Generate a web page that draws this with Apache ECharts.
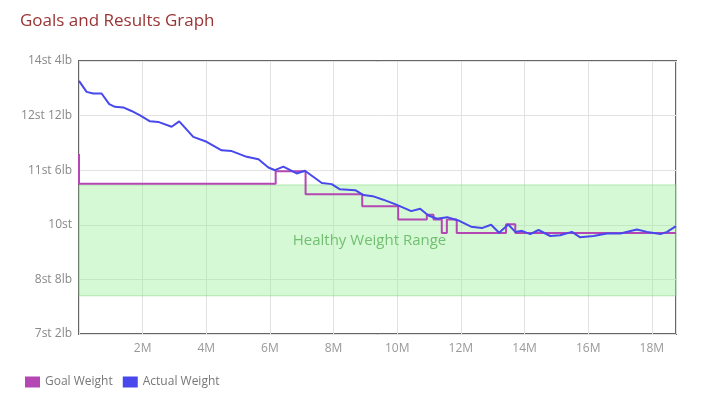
<!DOCTYPE html>
<html>
<head>
<meta charset="utf-8">
<script src="https://cdn.jsdelivr.net/npm/echarts@6/dist/echarts.min.js"></script>
<style>
html,body{margin:0;padding:0;background:#fff;}
#c{width:711px;height:396px;}
</style>
</head>
<body>
<div id="c"></div>
<script>
// x in months, y in pounds
const yTicks = [100, 120, 140, 160, 180, 200];
const yTickLabels = ['7st 2lb', '8st 8lb', '10st', '11st 6lb', '12st 12lb', '14st 4lb'];
const xTicks = [2, 4, 6, 8, 10, 12, 14, 16, 18];
const xTickLabels = ['2M', '4M', '6M', '8M', '10M', '12M', '14M', '16M', '18M'];

const goalWeight = [
  [0, 165.9], [0, 155], [6.18, 155], [6.18, 159.6], [7.12, 159.6], [7.12, 151.2],
  [8.90, 151.2], [8.90, 146.8], [10.03, 146.8], [10.03, 141.9], [10.93, 141.9],
  [10.93, 143.7], [11.14, 143.7], [11.14, 141.9], [11.40, 141.9], [11.40, 137.0],
  [11.56, 137.0], [11.56, 141.9], [11.87, 141.9], [11.87, 137.0], [13.42, 137.0],
  [13.42, 140.2], [13.71, 140.2], [13.71, 137.0], [18.76, 137.0]
];

const actualWeight = [
  [0, 192.7], [0.24, 188.7], [0.45, 188.1], [0.71, 188.1], [0.95, 184.2], [1.13, 183.2],
  [1.39, 183.0], [1.65, 181.7], [1.92, 180.1], [2.23, 177.9], [2.49, 177.7], [2.91, 175.9],
  [3.15, 177.9], [3.59, 172.2], [4.01, 170.4], [4.48, 167.3], [4.80, 167.0], [5.27, 164.9],
  [5.64, 164.0], [5.95, 161.0], [6.16, 160.0], [6.42, 161.3], [6.84, 158.8], [7.10, 159.8],
  [7.63, 155.3], [7.94, 154.9], [8.20, 153.0], [8.68, 152.7], [8.94, 150.9], [9.23, 150.5],
  [9.56, 149.2], [9.97, 147.4], [10.44, 145.0], [10.72, 145.9], [10.98, 143.4], [11.25, 142.2],
  [11.57, 142.8], [11.92, 141.6], [12.32, 139.3], [12.66, 138.8], [12.95, 140.0], [13.20, 137.1],
  [13.49, 140.1], [13.71, 137.4], [13.92, 137.8], [14.18, 136.6], [14.44, 138.1], [14.81, 135.9],
  [15.12, 136.2], [15.49, 137.4], [15.75, 135.4], [16.17, 135.9], [16.59, 136.8], [17.01, 136.8],
  [17.53, 138.3], [17.85, 137.4], [18.27, 136.6], [18.48, 137.4], [18.76, 139.5]
];

const healthyRange = [114, 154.6];
const xMax = 18.76;

const chart = echarts.init(document.getElementById('c'));
chart.setOption({
  animation: false,
  backgroundColor: '#fff',
  title: {
    text: 'Goals and Results Graph',
    left: 15, top: 8,
    textStyle: { color: '#9a3434', fontSize: 17, fontWeight: 'normal', fontFamily: 'Open Sans' }
  },
  legend: {
    data: ['Goal Weight', 'Actual Weight'],
    left: 20, top: 371,
    icon: 'rect', itemWidth: 15, itemHeight: 11, itemGap: 10,
    textStyle: { color: '#777', fontSize: 12, fontFamily: 'Open Sans' }
  },
  grid: {
    left: 79, right: 35, top: 61, bottom: 62,
    show: true, borderColor: '#666', borderWidth: 2, backgroundColor: 'transparent'
  },
  xAxis: {
    type: 'value', min: 0, max: xMax, interval: 2,
    axisLine: { show: false }, axisTick: { show: false },
    splitLine: { show: true, lineStyle: { color: '#e2e2e2', width: 1 } },
    axisLabel: {
      color: '#999', fontSize: 12, fontFamily: 'Open Sans', margin: 9,
      formatter: v => { const i = xTicks.indexOf(v); return i >= 0 ? xTickLabels[i] : ''; }
    }
  },
  yAxis: {
    type: 'value', min: 100, max: 200, interval: 20,
    axisLine: { show: false }, axisTick: { show: false },
    splitLine: { show: true, lineStyle: { color: '#e2e2e2', width: 1 } },
    axisLabel: {
      color: '#888', fontSize: 12, fontFamily: 'Open Sans', margin: 7,
      formatter: v => { const i = yTicks.indexOf(v); return i >= 0 ? yTickLabels[i] : ''; }
    }
  },
  series: [
    {
      name: 'Goal Weight', type: 'line', data: goalWeight, showSymbol: false, symbol: 'none',
      lineStyle: { color: '#b447b4', width: 2 }, itemStyle: { color: '#b447b4' }, z: 3,
      markArea: {
        silent: true,
        itemStyle: { color: 'rgba(150,240,150,0.4)', borderColor: 'rgba(120,210,120,0.5)', borderWidth: 1 },
        label: {
          show: true, position: 'inside', offset: [-8, 0],
          color: '#72bf72', fontSize: 15, fontFamily: 'Open Sans'
        },
        data: [[
          { name: 'Healthy Weight Range', coord: [0, healthyRange[1]] },
          { coord: [xMax, healthyRange[0]] }
        ]]
      }
    },
    {
      name: 'Actual Weight', type: 'line', data: actualWeight, showSymbol: false, symbol: 'none',
      lineStyle: { color: '#4848ec', width: 2 }, itemStyle: { color: '#4848ec' }, z: 4
    }
  ]
});
</script>
</body>
</html>
